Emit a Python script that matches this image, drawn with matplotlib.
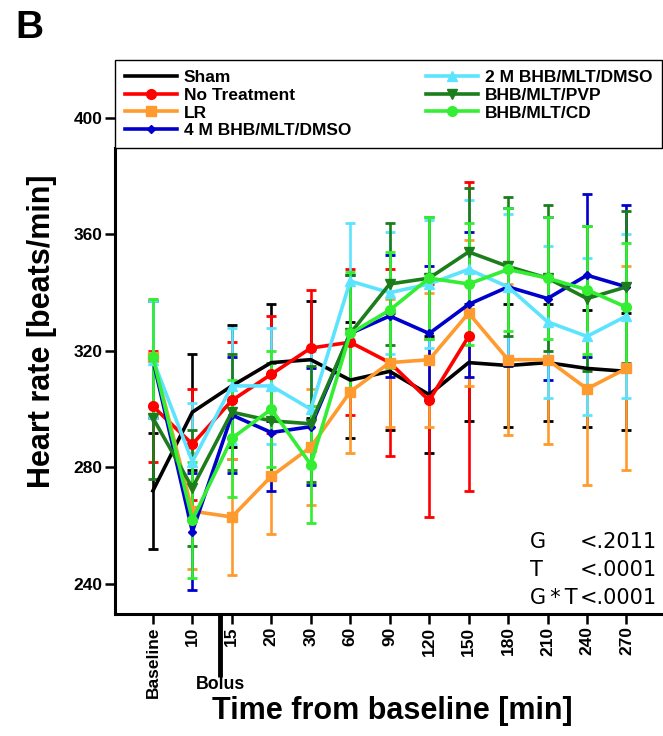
import matplotlib
matplotlib.use("Agg")
import matplotlib.pyplot as plt
import matplotlib.transforms as mtransforms

plt.rcParams['font.family'] = ['Liberation Sans', 'DejaVu Sans']
plt.rcParams['font.weight'] = 'bold'

""" data: mean heart rate +/- error per group """
times = ['Baseline', '10', '15', '20', '30', '60', '90', '120', '150',
         '180', '210', '240', '270']

sham = [272, 299, 308, 316, 317, 310, 313, 305, 316, 315, 316, 314, 313]
sham_err = [20, 20, 21, 20, 20, 20, 20, 20, 20, 21, 20, 20, 20]

no_trt = [301, 288, 303, 312, 321, 323, 316, 303, 325]
no_trt_err = [19, 19, 20, 20, 20, 25, 32, 40, 53]

lr = [318, 265, 263, 277, 287, 306, 316, 317, 333, 317, 317, 307, 314]
lr_err = [20, 20, 20, 20, 20, 21, 22, 23, 25, 26, 29, 33, 35]

m4 = [317, 258, 298, 292, 294, 326, 332, 326, 336, 342, 338, 346, 342]
m4_err = [20, 20, 20, 20, 20, 20, 21, 23, 25, 27, 28, 28, 28]

m2 = [317, 282, 308, 308, 300, 344, 340, 343, 348, 342, 330, 325, 332]
m2_err = [20, 20, 20, 20, 20, 20, 21, 22, 24, 25, 26, 27, 28]

pvp = [297, 273, 299, 296, 295, 326, 343, 345, 354, 349, 345, 338, 342]
pvp_err = [21, 20, 20, 20, 20, 20, 21, 21, 22, 24, 25, 25, 26]

cd = [318, 262, 290, 300, 281, 326, 334, 345, 343, 348, 345, 341, 335]
cd_err = [20, 20, 20, 20, 20, 21, 20, 21, 21, 21, 21, 22, 22]

groups = [
    ('Sham', sham, sham_err, '#000000', None, 0),
    ('No Treatment', no_trt, no_trt_err, '#ff0000', 'o', 7),
    ('LR', lr, lr_err, '#ff9a2e', 's', 7),
    ('4 M BHB/MLT/DMSO', m4, m4_err, '#0000cc', 'D', 4.5),
    ('2 M BHB/MLT/DMSO', m2, m2_err, '#5ce4ff', '^', 7),
    ('BHB/MLT/PVP', pvp, pvp_err, '#1b7d1b', 'v', 7),
    ('BHB/MLT/CD', cd, cd_err, '#33ee33', 'o', 7),
]

fig = plt.figure(figsize=(6.63, 7.36), dpi=100)
ax = fig.add_axes([0.1735, 0.1658, 0.825, 0.7527])

handles = []
labels = []
for name, vals, err, col, mk, ms in groups:
    x = list(range(len(vals)))
    eb = ax.errorbar(x, vals, yerr=err, color=col, lw=2.6, marker=mk, ms=ms,
                     capsize=3.5, capthick=2, elinewidth=1.9)
    handles.append(eb[0])
    labels.append(name)

ax.set_xlim(-0.96, 12.9)
ax.set_ylim(229.7, 419.9)
ax.set_yticks([240, 280, 320, 360, 400])
ax.set_xticks(range(len(times)))
ax.set_xticklabels(times, rotation=90)
ax.tick_params(axis='both', direction='out', length=7, width=1.8,
               labelsize=12.5, pad=2)

for s in ['top', 'right']:
    ax.spines[s].set_visible(False)
for s in ['left', 'bottom']:
    ax.spines[s].set_linewidth(2.2)

leg = ax.legend(handles, labels, ncol=2, loc='upper left',
                bbox_to_anchor=(0, 0, 1, 1), mode='expand', borderaxespad=0,
                fancybox=False, edgecolor='black', framealpha=1,
                prop={'weight': 'bold', 'size': 12.5},
                handlelength=3.0, handletextpad=0.4, borderpad=0.55,
                labelspacing=0.16, columnspacing=1.0)
leg.get_frame().set_linewidth(1.0)

# left spine stops where the legend box starts
fig.canvas.draw()
bb = leg.get_window_extent()
y_leg = ax.transData.inverted().transform((0, bb.y0))[1]
ax.spines['left'].set_bounds(229.7, y_leg)

# bolus marker under the x axis
trans = mtransforms.blended_transform_factory(ax.transData, ax.transAxes)
ax.plot([1.70, 1.70], [0, -0.114], transform=trans, color='black', lw=3.5,
        clip_on=False, solid_capstyle='butt')
ax.text(1.70, -0.1354, 'Bolus', transform=trans, ha='center', va='baseline',
        fontsize=12.8, fontweight='bold')

W, H = 663.0, 736.0
fig.text(15 / W, 1 - 10 / H, 'B', ha='left', va='top', fontsize=28,
         fontweight='bold')
fig.text(42.5 / W, 1 - 331 / H, 'Heart rate [beats/min]', rotation=90,
         ha='center', va='center', fontsize=22, fontweight='bold')
fig.text(392.5 / W, 1 - 711 / H, 'Time from baseline [min]', ha='center',
         va='center', fontsize=22, fontweight='bold')

stats = [('G', '<.2011'), ('T', '<.0001'), ('G\u2009*\u2009T', '<.0001')]
for i, (k, v) in enumerate(stats):
    yb = 1 - (548.5 + 28 * i) / H
    fig.text(530 / W, yb, k, ha='left', va='baseline', fontsize=15,
             fontweight='normal', family='DejaVu Sans')
    fig.text(657 / W, yb, v, ha='right', va='baseline', fontsize=15,
             fontweight='normal', family='DejaVu Sans')

fig.savefig('out.png', dpi=100, facecolor='white')
